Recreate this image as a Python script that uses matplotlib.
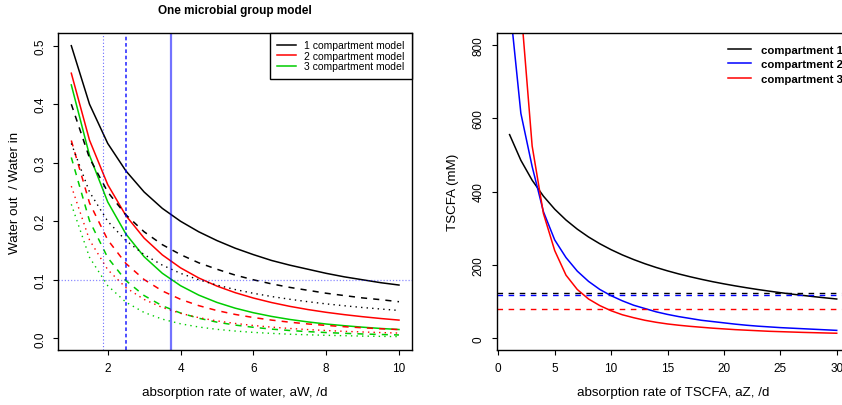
import matplotlib.pyplot as plt

plt.rcParams['font.family'] = ['Liberation Sans', 'DejaVu Sans']

# ---- left panel: water out / water in vs absorption rate of water ----
aw = [1, 1.5, 2, 2.5, 3, 3.5, 4, 4.5, 5, 5.5, 6, 6.5, 7, 7.5, 8, 8.5, 9, 9.5, 10]

# 1 compartment model (solid, dashed, dotted)
c1_solid = [0.500, 0.400, 0.333, 0.286, 0.250, 0.222, 0.200, 0.182, 0.167, 0.154,
            0.143, 0.133, 0.125, 0.118, 0.111, 0.105, 0.100, 0.095, 0.091]
c1_dash = [0.400, 0.308, 0.250, 0.211, 0.182, 0.160, 0.143, 0.129, 0.118, 0.108,
           0.100, 0.093, 0.087, 0.082, 0.077, 0.073, 0.069, 0.066, 0.0625]
c1_dot = [0.333, 0.250, 0.200, 0.167, 0.143, 0.125, 0.111, 0.100, 0.0909, 0.0833,
          0.0769, 0.0714, 0.0667, 0.0625, 0.0588, 0.0556, 0.0526, 0.050, 0.0476]

# 2 compartment model
c2_solid = [0.453, 0.3385, 0.2626, 0.2096, 0.1712, 0.1425, 0.1204, 0.1031, 0.0892, 0.0780,
            0.0688, 0.0611, 0.0546, 0.0491, 0.0444, 0.0404, 0.0369, 0.0338, 0.0311]
c2_dash = [0.338, 0.2313, 0.1682, 0.1278, 0.1004, 0.0809, 0.0666, 0.0558, 0.0474, 0.0408,
           0.0355, 0.0311, 0.0275, 0.0245, 0.0220, 0.0198, 0.0180, 0.0163, 0.0149]
c2_dot = [0.260, 0.168, 0.1173, 0.0865, 0.0664, 0.0526, 0.0427, 0.0353, 0.0297, 0.0254,
          0.0219, 0.0191, 0.0168, 0.0149, 0.0133, 0.0119, 0.0108, 0.0098, 0.0089]

# 3 compartment model
c3_solid = [0.433, 0.3126, 0.2330, 0.1782, 0.1394, 0.1111, 0.0899, 0.0738, 0.0613, 0.0515,
            0.0437, 0.0374, 0.0322, 0.0280, 0.0244, 0.0215, 0.0190, 0.0168, 0.0150]
c3_dash = [0.309, 0.2008, 0.1378, 0.0986, 0.0730, 0.0555, 0.0432, 0.0343, 0.0276, 0.0226,
           0.0188, 0.0157, 0.0133, 0.0114, 0.0098, 0.0085, 0.0074, 0.0065, 0.0057]
c3_dot = [0.229, 0.1383, 0.0899, 0.0617, 0.0441, 0.0327, 0.0248, 0.0193, 0.0153, 0.0124,
          0.0101, 0.0084, 0.0070, 0.0060, 0.0051, 0.0044, 0.0038, 0.0033, 0.0029]

water_target = 0.1
aw_at_target = [1.88, 2.49, 3.73]   # 3 compartment: dotted, dashed, solid

# ---- right panel: TSCFA vs absorption rate of TSCFA ----
az = list(range(1, 31))
tscfa_1 = [555.0, 485.0, 430.7, 387.3, 351.8, 322.3, 297.4, 276.0, 257.6, 241.4,
           227.1, 214.5, 203.1, 192.9, 183.7, 175.3, 167.7, 160.7, 154.2, 148.3,
           142.8, 137.7, 132.9, 128.5, 124.3, 120.4, 116.8, 113.3, 110.1, 107.0]
tscfa_2 = [915, 613, 468, 345, 268, 220, 183, 155, 133, 116,
           102, 90, 81, 72, 65, 59, 54, 49, 45.5, 42,
           38.5, 35.5, 33, 31, 29, 27.5, 26, 24.5, 23, 21.5]
tscfa_3 = [1500, 905, 524, 340, 239, 172, 133, 107, 89, 75,
           64, 56, 49, 43.5, 39, 35.5, 32.5, 30, 27.5, 25.5,
           23.5, 22, 20.5, 19, 18, 17, 16, 15.2, 14.4, 13.7]
tscfa_obs = [123, 117.5, 81]

green = '#00CD00'
dash = (4, 4)
dot = (1, 3)

fig = plt.figure(figsize=(8.42, 4.06), dpi=100)
ax1 = fig.add_axes([58.2 / 842, 55 / 406, 353.9 / 842, 317 / 406])
ax2 = fig.add_axes([496.5 / 842, 55 / 406, 353.3 / 842, 317 / 406])

# left panel curves
for ys, col in [(c1_solid, 'black'), (c2_solid, 'red'), (c3_solid, green)]:
    ax1.plot(aw, ys, color=col, lw=1.1)
for ys, col in [(c1_dash, 'black'), (c2_dash, 'red'), (c3_dash, green)]:
    ax1.plot(aw, ys, color=col, lw=1.1, dashes=dash)
for ys, col in [(c1_dot, 'black'), (c2_dot, 'red'), (c3_dot, green)]:
    ax1.plot(aw, ys, color=col, lw=1.0, dashes=dot)

ax1.axhline(water_target, color=(0, 0, 1, 0.45), lw=0.9, dashes=(1, 1.5))
ax1.axvline(aw_at_target[0], color=(0, 0, 1, 0.6), lw=0.8, dashes=(1, 2))
ax1.axvline(aw_at_target[1], color=(0, 0, 1, 0.75), lw=1.3, dashes=(2, 1.5))
ax1.axvline(aw_at_target[2], color=(0, 0, 1, 0.55), lw=1.6)

ax1.set_xlim(0.64, 10.36)
ax1.set_ylim(-0.02, 0.5217)
ax1.set_xticks([2, 4, 6, 8, 10])
ax1.set_yticks([0.0, 0.1, 0.2, 0.3, 0.4, 0.5])
ax1.set_yticklabels(['0.0', '0.1', '0.2', '0.3', '0.4', '0.5'])

leg_lines = [plt.Line2D([], [], color=c, lw=1.1) for c in ['black', 'red', green]]
leg1 = ax1.legend(leg_lines, ['1 compartment model', '2 compartment model', '3 compartment model'],
                  loc='upper right', borderaxespad=0, fontsize=7.5, handlelength=1.85,
                  handletextpad=0.8, borderpad=0.7, labelspacing=0.05,
                  fancybox=False, framealpha=1, edgecolor='black')
leg1.get_frame().set_linewidth(1.0)

ax1.text(0.5, 1 + 23 / 317, 'One microbial group model', transform=ax1.transAxes,
         ha='center', va='center', fontsize=8.5, fontweight='bold')
ax1.set_xlabel('absorption rate of water, aW, /d', fontsize=9.6)
ax1.set_ylabel('Water out  / Water in', fontsize=9.6)
ax1.xaxis.set_label_coords(0.5, -(393.3 - 351) / 317)
ax1.yaxis.set_label_coords(-(58.2 - 15) / 353.9, 0.5)

# right panel curves
ax2.plot(az, tscfa_1, color='black', lw=1.1, label='compartment 1')
ax2.plot(az, tscfa_2, color='blue', lw=1.1, label='compartment 2')
ax2.plot(az, tscfa_3, color='red', lw=1.1, label='compartment 3')
for v, col in zip(tscfa_obs, ['black', 'blue', 'red']):
    ax2.axhline(v, color=col, lw=1.0, dashes=dash)

ax2.set_xlim(-0.16, 31.16)
ax2.set_ylim(-32, 832)
ax2.set_xticks([0, 5, 10, 15, 20, 25, 30])
ax2.set_yticks([0, 200, 400, 600, 800])

ax2.legend(loc='upper left', bbox_to_anchor=(728 / 842, 1 - 46 / 406),
           bbox_transform=fig.transFigure, borderaxespad=0, borderpad=0,
           frameon=False, prop={'size': 8.2, 'weight': 'bold'},
           handlelength=2.0, handletextpad=0.9, labelspacing=0.38)

ax2.set_xlabel('absorption rate of TSCFA, aZ, /d', fontsize=9.6)
ax2.set_ylabel('TSCFA (mM)', fontsize=9.6)
ax2.xaxis.set_label_coords(0.5, -(393.3 - 351) / 317)
ax2.yaxis.set_label_coords(-(496.5 - 453.3) / 353.3, 0.5)

for ax in (ax1, ax2):
    ax.xaxis.label.set_va('center')
    ax.yaxis.label.set_va('center')
    ax.tick_params(direction='out', length=3.6, width=0.8, labelsize=8.5, pad=5)
    ax.tick_params(axis='y', labelrotation=90)
    for lbl in ax.get_yticklabels():
        lbl.set_va('center')
    for s in ax.spines.values():
        s.set_linewidth(1.0)

fig.savefig('out.png', dpi=100)
